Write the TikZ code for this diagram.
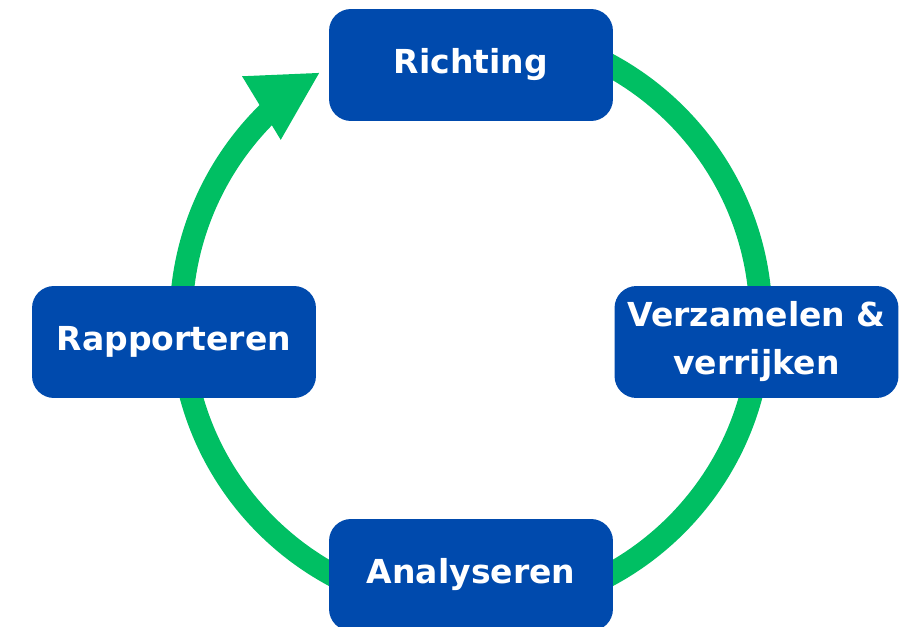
\documentclass[tikz,border=0pt]{standalone}
\usepackage{fontspec}
\setmainfont{DejaVu Sans}
\usepackage{tikz}
\usetikzlibrary{arrows.meta,bending}

\definecolor{stageblue}{RGB}{0,74,173}
\definecolor{cyclegreen}{RGB}{0,191,99}

\begin{document}
\begin{tikzpicture}[
  x=0.02cm, y=0.02cm,
  stage/.style={rectangle, rounded corners=0.44cm, fill=stageblue, text=white,
    minimum width=5.68cm, minimum height=2.24cm, align=center, inner sep=0pt,
    font=\fontsize{18.8}{27.3}\selectfont\bfseries},
  cycle/.style={draw=cyclegreen, line width=0.46cm,
    -{Triangle[length=1.38cm, width=1.38cm, flex=0]}}
]
\useasboundingbox (0,0) rectangle (917,626);

% Cycle ring (drawn first, boxes sit on top)
\coordinate (c) at (471,306);
\draw[cycle] (c) ++(90:290) arc[start angle=90, end angle=-238.7, radius=290];

% Stages
\node[stage] (richting) at (471,561)   {Richting};
\node[stage] (verzamel) at (756.5,284) {Verzamelen \&\\verrijken};
\node[stage] (analyse)  at (471,51)    {Analyseren};
\node[stage] (rapport)  at (174,284)   {Rapporteren};

\end{tikzpicture}
\end{document}
